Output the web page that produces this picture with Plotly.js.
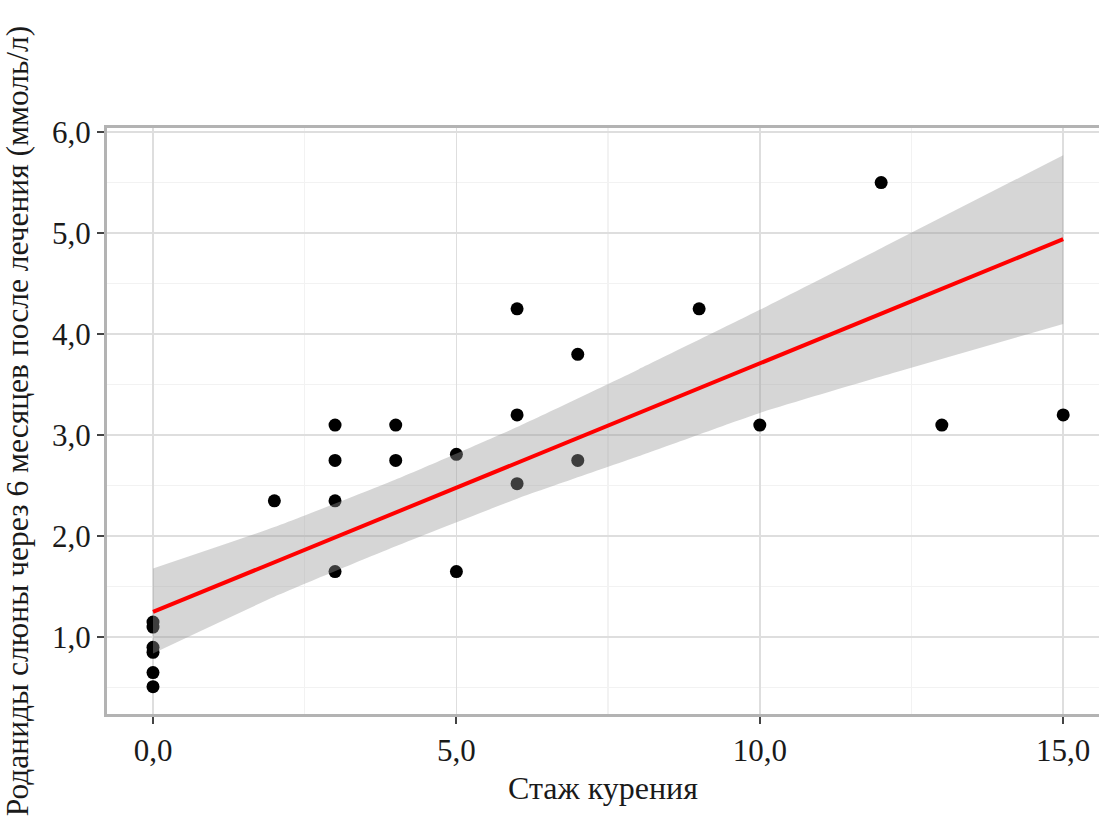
<!DOCTYPE html>
<html>
<head>
<meta charset="utf-8">
<script src="https://cdn.plot.ly/plotly-3.0.1.min.js"></script>
<style>html,body{margin:0;padding:0;background:#fff;}#chart{width:1099px;height:821px;}</style>
</head>
<body>
<div id="chart"></div>
<script>
// Observed points: smoking duration (years) vs saliva thiocyanates after 6 months (mmol/l)
var smokingYears = [0, 0, 0, 0, 0, 0, 2, 3, 3, 3, 3, 4, 4, 5, 5, 6, 6, 6, 7, 7, 9, 10, 12, 13, 15];
var thiocyanates = [1.15, 1.10, 0.90, 0.85, 0.65, 0.51, 2.35, 3.10, 2.75, 2.35, 1.65, 3.10, 2.75, 2.81, 1.65, 4.25, 3.20, 2.52, 3.80, 2.75, 4.25, 3.10, 5.50, 3.10, 3.20];

// Regression line and confidence band
var fitX = [0, 15];
var fitY = [1.25, 4.94];
var bandX = [0, 2, 4, 6, 8, 10, 12, 15];
var bandLower = [0.84, 1.40, 1.90, 2.37, 2.79, 3.22, 3.58, 4.10];
var bandUpper = [1.68, 2.09, 2.56, 3.08, 3.65, 4.24, 4.85, 5.77];

var xTickVals = [0, 5, 10, 15];
var xTickText = ['0,0', '5,0', '10,0', '15,0'];
var yTickVals = [1, 2, 3, 4, 5, 6];
var yTickText = ['1,0', '2,0', '3,0', '4,0', '5,0', '6,0'];

var xTitle = 'Стаж курения';
var yTitle = 'Роданиды слюны через 6 месяцев после лечения (ммоль/л)';

var font = 'Liberation Serif, Times New Roman, serif';

var traces = [
  {x: smokingYears, y: thiocyanates, type: 'scatter', mode: 'markers',
   marker: {color: '#000', size: 13}, hoverinfo: 'x+y', showlegend: false},
  {x: bandX, y: bandLower, type: 'scatter', mode: 'lines',
   line: {width: 0, color: 'rgba(0,0,0,0)', shape: 'spline', smoothing: 0.5}, hoverinfo: 'skip', showlegend: false},
  {x: bandX, y: bandUpper, type: 'scatter', mode: 'lines', fill: 'tonexty',
   fillcolor: 'rgba(153,153,153,0.4)',
   line: {width: 0, color: 'rgba(0,0,0,0)', shape: 'spline', smoothing: 0.5}, hoverinfo: 'skip', showlegend: false},
  {x: fitX, y: fitY, type: 'scatter', mode: 'lines',
   line: {color: '#ff0000', width: 4}, hoverinfo: 'skip', showlegend: false}
];

var layout = {
  width: 1099, height: 821,
  margin: {l: 107, r: 0, t: 128, b: 107},
  paper_bgcolor: '#fff', plot_bgcolor: '#fff',
  font: {family: font, size: 30, color: '#1a1a1a'},
  xaxis: {
    range: [-0.758, 15.59], autorange: false,
    tickvals: xTickVals, ticktext: xTickText,
    ticks: 'outside', ticklen: 7, tickwidth: 2, tickcolor: '#444',
    showgrid: true, gridcolor: '#dedede', gridwidth: 1.5,
    minor: {dtick: 2.5, tick0: 0, showgrid: true, gridcolor: '#f2f2f2', gridwidth: 1.5, ticks: ''},
    showline: true, linecolor: '#b3b3b3', linewidth: 3, mirror: true,
    zeroline: false,
    tickfont: {family: font, size: 31, color: '#1a1a1a'},
    title: {text: xTitle, font: {family: font, size: 32, color: '#1a1a1a'}, standoff: 10},
    automargin: false
  },
  yaxis: {
    range: [0.24, 6.04], autorange: false,
    tickvals: yTickVals, ticktext: yTickText,
    ticks: 'outside', ticklen: 7, tickwidth: 2, tickcolor: '#444',
    showgrid: true, gridcolor: '#dedede', gridwidth: 1.5,
    minor: {dtick: 0.5, tick0: 0, showgrid: true, gridcolor: '#f2f2f2', gridwidth: 1.5, ticks: ''},
    showline: true, linecolor: '#b3b3b3', linewidth: 3, mirror: false,
    zeroline: false,
    tickfont: {family: font, size: 31, color: '#1a1a1a'},
    title: {text: yTitle, font: {family: font, size: 31.5, color: '#1a1a1a'}, standoff: 16},
    automargin: false
  }
};

Plotly.newPlot('chart', traces, layout, {staticPlot: true, displayModeBar: false});
</script>
</body>
</html>
